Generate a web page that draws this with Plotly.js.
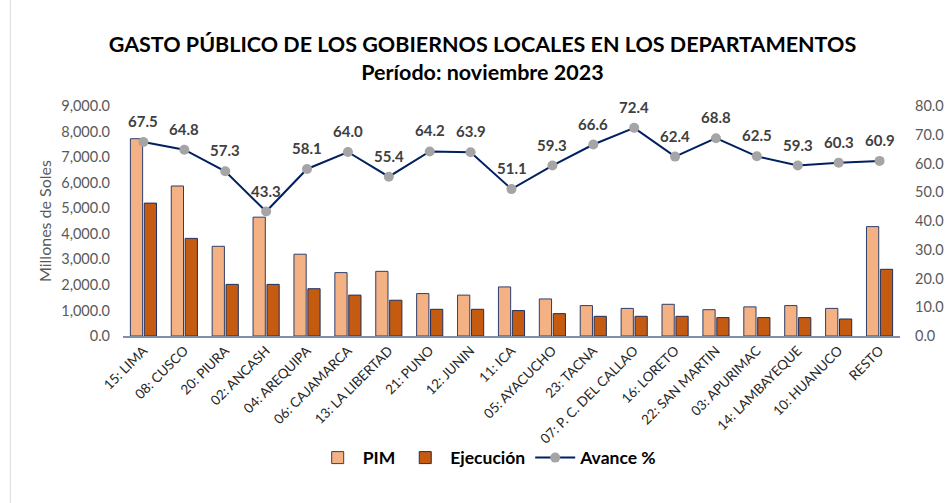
<!DOCTYPE html>
<html>
<head>
<meta charset="utf-8">
<script src="https://cdn.plot.ly/plotly-3.0.1.min.js"></script>
<style>
html,body{margin:0;padding:0;background:#fff;}
#chart{width:946px;height:503px;}
</style>
</head>
<body>
<div id="chart"></div>
<script>
const categories = ["15: LIMA","08: CUSCO","20: PIURA","02: ANCASH","04: AREQUIPA","06: CAJAMARCA","13: LA LIBERTAD","21: PUNO","12: JUNIN","11: ICA","05: AYACUCHO","23: TACNA","07: P. C. DEL CALLAO","16: LORETO","22: SAN MARTIN","03: APURIMAC","14: LAMBAYEQUE","10: HUANUCO","RESTO"];
const pim = [7720,5870,3510,4650,3200,2480,2530,1660,1600,1920,1450,1190,1080,1240,1030,1140,1190,1080,4280];
const ejecucion = [5200,3820,2020,2020,1850,1600,1400,1045,1045,995,875,770,770,770,720,720,720,665,2610];
const avance = [67.5,64.8,57.3,43.3,58.1,64.0,55.4,64.2,63.9,51.1,59.3,66.6,72.4,62.4,68.8,62.5,59.3,60.3,60.9];

const FONT = "Lato, Carlito, 'Liberation Sans', sans-serif";

const traces = [
  {
    type: "bar", name: "PIM", x: categories, y: pim,
    marker: {color: "#F4B183", line: {color: "#2F3F6B", width: 1}},
    hoverinfo: "y"
  },
  {
    type: "bar", name: "Ejecución", x: categories, y: ejecucion,
    marker: {color: "#C55A11", line: {color: "#1F2F5A", width: 1}},
    hoverinfo: "y"
  },
  {
    type: "scatter", mode: "lines+markers", name: "Avance %",
    x: categories, y: avance, yaxis: "y2",
    line: {color: "#002060", width: 2},
    marker: {color: "#A5A5A5", size: 10},
    cliponaxis: false
  }
];

const labelAnnotations = avance.map((v, i) => ({
  x: categories[i], y: v, xref: "x", yref: "y2",
  text: v.toFixed(1), showarrow: false, yshift: 21,
  font: {family: FONT, size: 15, color: "#404040", weight: "bold"}
}));

const layout = {
  width: 946, height: 503,
  margin: {l: 123, r: 46, t: 106, b: 167, autoexpand: false},
  paper_bgcolor: "#fff", plot_bgcolor: "#fff",
  font: {family: FONT, color: "#595959"},
  title: {
    text: "<b>GASTO PÚBLICO DE LOS GOBIERNOS LOCALES EN LOS DEPARTAMENTOS</b><br><b>Período: noviembre 2023</b>",
    font: {family: FONT, size: 21.5, color: "#000"},
    x: 0.51, xref: "container", y: 0.897, yref: "container", yanchor: "middle"
  },
  barmode: "group", bargap: 0.32, bargroupgap: 0.12,
  showlegend: true,
  legend: {
    orientation: "h", x: 0.515, xref: "container", xanchor: "center",
    y: 0.09, yref: "container", yanchor: "middle",
    bgcolor: "rgba(0,0,0,0)",
    font: {family: FONT, size: 17.5, color: "#000", weight: "bold"},
    traceorder: "normal", itemwidth: 40
  },
  annotations: labelAnnotations,
  xaxis: {
    type: "category", tickangle: -45, automargin: false,
    range: [-0.5, categories.length - 0.5],
    tickfont: {family: FONT, size: 13.5, color: "#262626"},
    showline: true, linecolor: "#7F8FA9", linewidth: 1.5,
    ticks: "", showgrid: false, fixedrange: true
  },
  yaxis: {
    range: [0, 9000], dtick: 1000, tickformat: ",.1f", automargin: false,
    tickfont: {family: FONT, size: 14.5, color: "#595959"},
    ticklabelstandoff: 12,
    showgrid: false, zeroline: false, showline: false,
    title: {text: "Millones de Soles", font: {family: FONT, size: 16, color: "#595959"}, standoff: 5}
  },
  yaxis2: {
    range: [0, 80], dtick: 10, tickformat: ".1f", overlaying: "y", side: "right", automargin: false,
    tickfont: {family: FONT, size: 14.5, color: "#595959"},
    ticklabelstandoff: 14,
    showgrid: false, zeroline: false, showline: false
  },
  shapes: [
    {type: "line", xref: "paper", yref: "paper", x0: -0.145, x1: -0.145, y0: -1.0, y1: 1.5, line: {color: "#D9D9D9", width: 1}}
  ]
};

Plotly.newPlot("chart", traces, layout, {displayModeBar: false, staticPlot: true});
</script>
</body>
</html>
